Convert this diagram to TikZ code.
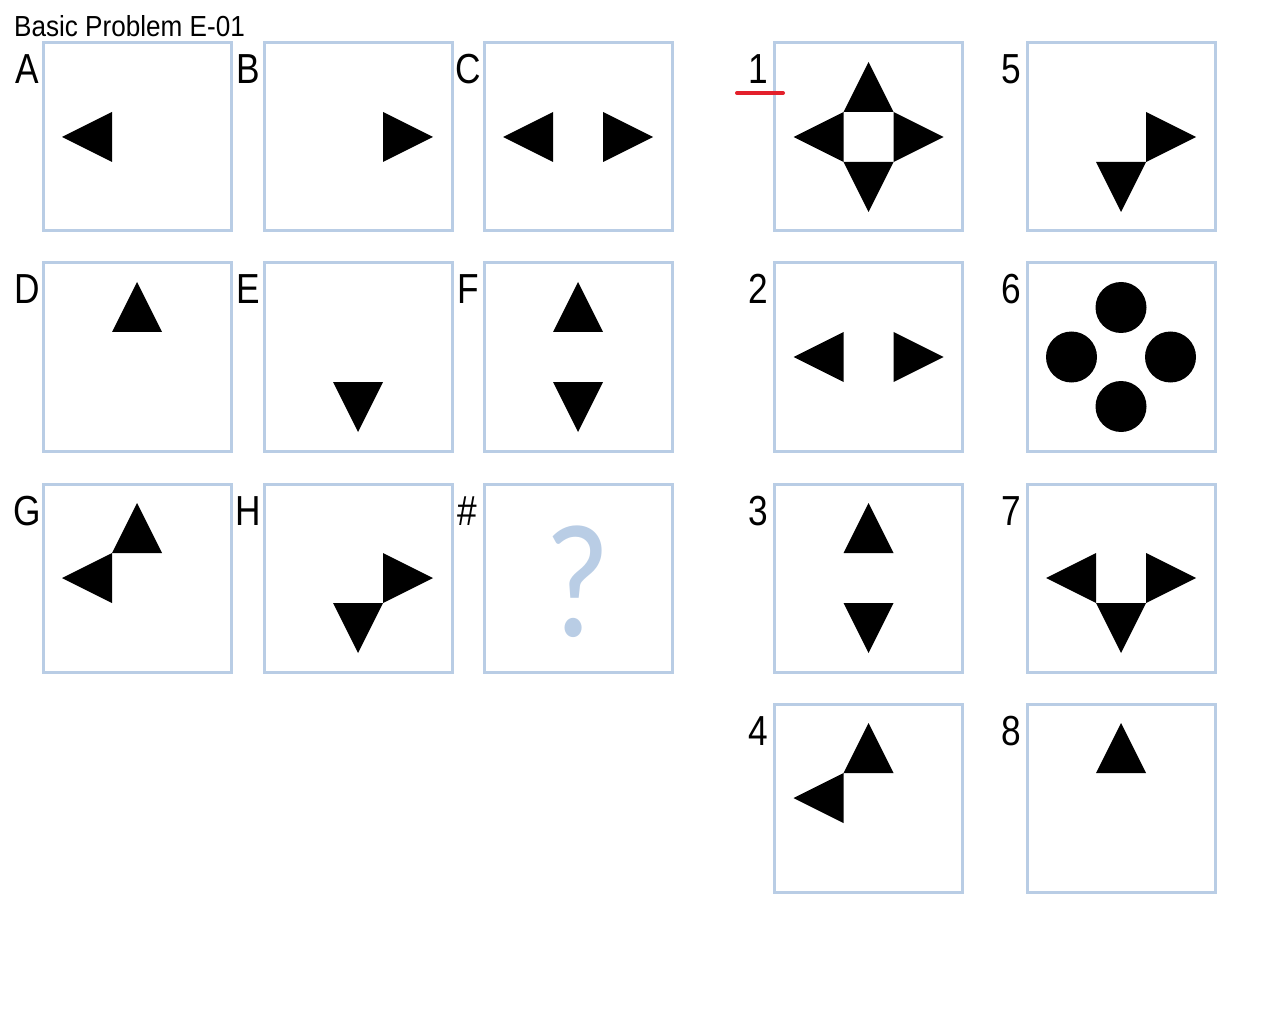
\documentclass[tikz,border=0pt]{standalone}
\usepackage{fontspec}
\setmainfont{Liberation Sans}
\newfontfamily\labfont[FakeStretch=0.84]{Liberation Sans}
\newfontfamily\titlefont[FakeStretch=0.9]{Liberation Sans}
\newfontfamily\qfont[FakeStretch=0.88]{Carlito}
\definecolor{boxblue}{HTML}{B9CDE5}
\definecolor{markred}{HTML}{E3202B}
\begin{document}
\begin{tikzpicture}[x=1pt,y=-1pt,
  cell/.style={draw=boxblue,line width=3pt,minimum width=188pt,minimum height=188pt,inner sep=0pt,fill=white},
  lab/.style={anchor=base,inner sep=0pt,font=\labfont\fontsize{42}{42}\selectfont},
  arrL/.pic={\fill (-25,-25) -- (-75,0) -- (-25,25) -- cycle;},
  arrR/.pic={\fill (25,-25) -- (75,0) -- (25,25) -- cycle;},
  arrU/.pic={\fill (-25,-25) -- (0,-75) -- (25,-25) -- cycle;},
  arrD/.pic={\fill (-25,25) -- (0,75) -- (25,25) -- cycle;},
  dots/.pic={\fill (0,-49.5) circle (25.5) (-49.5,0) circle (25.5) (49.5,0) circle (25.5) (0,49.5) circle (25.5);}
]
\useasboundingbox[fill=white] (0,0) rectangle (1280,1024);
\node[anchor=base west,inner sep=0pt,font=\titlefont\fontsize{29}{29}\selectfont] (title) at (14,37) {Basic Problem E-01};
% problem boxes
\node[cell] (A) at (137,137) {};
\node[cell] (B) at (358,137) {};
\node[cell] (C) at (578,137) {};
\node[cell] (D) at (137,357) {};
\node[cell] (E) at (358,357) {};
\node[cell] (F) at (578,357) {};
\node[cell] (G) at (137,578) {};
\node[cell] (H) at (358,578) {};
\node[cell] (Q) at (578,578) {};
% answer boxes
\node[cell] (a1) at (868.5,137) {};
\node[cell] (a2) at (868.5,357) {};
\node[cell] (a3) at (868.5,578) {};
\node[cell] (a4) at (868.5,798) {};
\node[cell] (a5) at (1121,137) {};
\node[cell] (a6) at (1121,357) {};
\node[cell] (a7) at (1121,578) {};
\node[cell] (a8) at (1121,798) {};
% labels
\node[lab] (lA) at (27,84) {A};
\node[lab] (lB) at (248,84) {B};
\node[lab] (lC) at (468,84) {C};
\node[lab] (lD) at (27,304) {D};
\node[lab] (lE) at (248,304) {E};
\node[lab] (lF) at (468,304) {F};
\node[lab] (lG) at (27,525) {G};
\node[lab] (lH) at (248,525) {H};
\node[lab] (lQ) at (467,525) {\#};
\node[lab] (l1) at (758,84) {1};
\node[lab] (l2) at (758,304) {2};
\node[lab] (l3) at (758,525) {3};
\node[lab] (l4) at (758,745) {4};
\node[lab] (l5) at (1011,84) {5};
\node[lab] (l6) at (1011,304) {6};
\node[lab] (l7) at (1011,525) {7};
\node[lab] (l8) at (1011,745) {8};
\coordinate (u1) at (737,93);
\coordinate (u2) at (783,93);
\draw[markred,line width=4pt,line cap=round] (u1) -- (u2);
% figures
\pic at (A.center) {arrL};
\pic at (B.center) {arrR};
\pic at (C.center) {arrL}; \pic at (C.center) {arrR};
\pic at (D.center) {arrU};
\pic at (E.center) {arrD};
\pic at (F.center) {arrU}; \pic at (F.center) {arrD};
\pic at (G.center) {arrL}; \pic at (G.center) {arrU};
\pic at (H.center) {arrR}; \pic at (H.center) {arrD};
\node[text=boxblue,inner sep=0pt,font=\qfont\fontsize{162}{162}\selectfont] (qm) at ([yshift=-4pt]Q.center) {?};
\pic at (a1.center) {arrL}; \pic at (a1.center) {arrR}; \pic at (a1.center) {arrU}; \pic at (a1.center) {arrD};
\pic at (a2.center) {arrL}; \pic at (a2.center) {arrR};
\pic at (a3.center) {arrU}; \pic at (a3.center) {arrD};
\pic at (a4.center) {arrL}; \pic at (a4.center) {arrU};
\pic at (a5.center) {arrR}; \pic at (a5.center) {arrD};
\pic at (a6.center) {dots};
\pic at (a7.center) {arrL}; \pic at (a7.center) {arrR}; \pic at (a7.center) {arrD};
\pic at (a8.center) {arrU};
\end{tikzpicture}
\end{document}
